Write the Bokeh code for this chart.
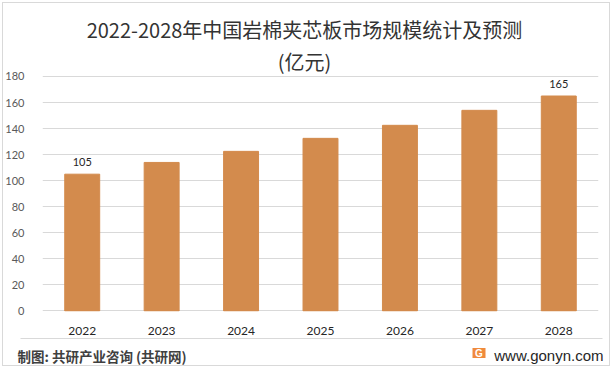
from bokeh.plotting import figure
from bokeh.layouts import column
from bokeh.models import (ColumnDataSource, LabelSet, Label, FixedTicker, Range1d,
                          InlineStyleSheet)
from bokeh.core.properties import value
from bokeh.embed import file_html
from bokeh.resources import INLINE

years = ["2022", "2023", "2024", "2025", "2026", "2027", "2028"]
values = [105, 114, 122.5, 132.5, 142.5, 154, 165]
value_labels = ["105", "", "", "", "", "", "165"]
y_ticks = [0, 20, 40, 60, 80, 100, 120, 140, 160, 180]

title_line1 = "2022-2028年中国岩棉夹芯板市场规模统计及预测"
title_line2 = "(亿元)"
footer_left = "制图: 共研产业咨询 (共研网)"
footer_right = "www.gonyn.com"

CJK = "Noto Sans CJK SC"
NUM = "Lato"
BAR = "#D38B4D"

src = ColumnDataSource(dict(x=years, top=values, lab=value_labels))

# ---------------- main chart ----------------
p = figure(width=612, height=337, x_range=years, y_range=Range1d(-0.4, 238.3),
           output_backend="svg", toolbar_location=None, title=None,
           min_border_left=42, min_border_right=14, min_border_top=0, min_border_bottom=26)
p.outline_line_color = None
p.border_fill_color = None
p.background_fill_color = None
p.x_range.range_padding = 0

p.vbar(x="x", top="top", width=0.44, color=BAR, source=src)

p.add_layout(LabelSet(x="x", y="top", text="lab", source=src, text_align="center",
                      text_baseline="middle", y_offset=12, text_font_size="11px",
                      text_color="#262626", text_font=value(NUM)))

p.yaxis.ticker = FixedTicker(ticks=y_ticks)
for ax in (p.xaxis, p.yaxis):
    ax.axis_line_color = None
    ax.major_tick_line_color = None
    ax.minor_tick_line_color = None
    ax.major_label_text_font = NUM
p.yaxis.major_label_text_font_size = "11px"
p.xaxis.major_label_text_font_size = "12px"
p.yaxis.major_label_text_color = "#595959"
p.xaxis.major_label_text_color = "#262626"
p.yaxis.major_label_standoff = 12
p.xaxis.major_label_standoff = 9
p.xgrid.grid_line_color = None
p.ygrid.grid_line_color = "#D9D9D9"
p.ygrid.grid_line_width = 1

p.add_layout(Label(x=304, y=29, x_units="canvas", y_units="canvas", text=title_line1,
                   text_align="center", text_baseline="middle", text_font=CJK,
                   text_font_size="20px", text_color="#333333"))
p.add_layout(Label(x=304, y=61, x_units="canvas", y_units="canvas", text=title_line2,
                   text_align="center", text_baseline="middle", text_font=CJK,
                   text_font_size="20px", text_color="#333333"))

# ---------------- footer ----------------
f = figure(width=612, height=31, x_range=Range1d(0, 612), y_range=Range1d(368, 337),
           x_axis_type=None, y_axis_type=None, output_backend="svg",
           toolbar_location=None, title=None, min_border=0)
f.outline_line_color = None
f.border_fill_color = None
f.background_fill_color = None
for fig in (p, f):
    if "frame_align" in fig.properties():
        fig.frame_align = False

f.segment(x0=[20], y0=[338], x1=[602], y1=[338], line_color="#D9D9D9", line_width=1)
f.text(x=[17], y=[355], text=[footer_left], text_align="left", text_baseline="middle",
       text_font=value(CJK), text_font_size="13.5px", text_font_style="bold",
       text_color="#404040")
f.quad(left=[472], right=[485], top=[347.5], bottom=[357.5], fill_color="#F08A3C",
       line_color=None)
f.text(x=[478.5], y=[352.7], text=["G"], text_align="center", text_baseline="middle",
       text_font=value("Liberation Sans"), text_font_size="10px", text_font_style="bold",
       text_color="white")
f.text(x=[603], y=[355], text=[footer_right], text_align="right", text_baseline="middle",
       text_font=value("Liberation Sans"), text_font_size="15px", text_color="#262626")

css = InlineStyleSheet(css=":host { outline: 1px solid #D9D9D9; outline-offset: -3px; }")
layout = column(p, f, spacing=0, stylesheets=[css])

open("out.html", "w").write(file_html(layout, INLINE))
